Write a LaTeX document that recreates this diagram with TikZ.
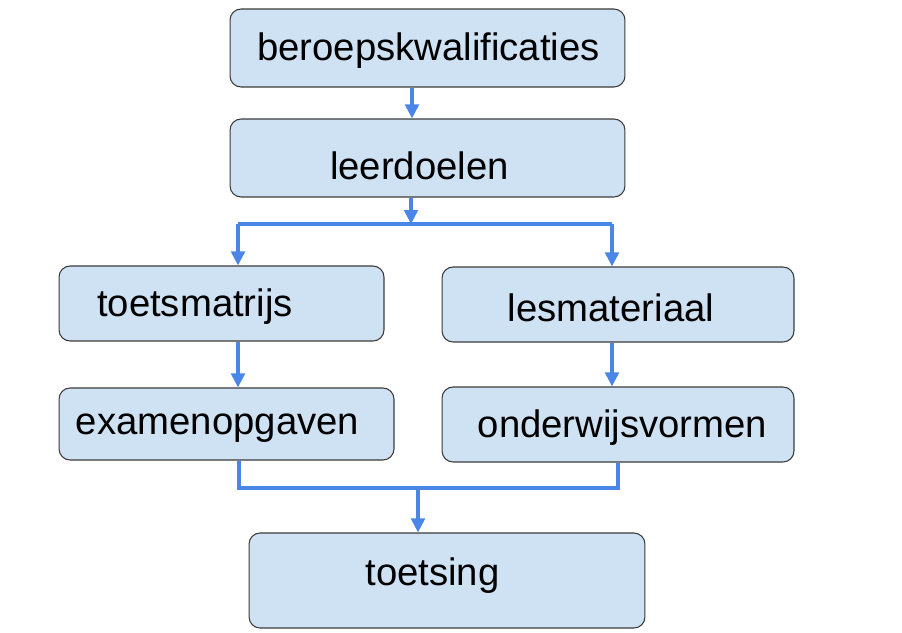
\documentclass[tikz,border=0pt]{standalone}
\usepackage{fontspec}
\setmainfont{Liberation Sans}
\usepackage{xcolor}
\usetikzlibrary{arrows.meta, positioning, calc}

\definecolor{boxfill}{HTML}{CFE2F3}
\definecolor{boxline}{HTML}{3A3A3A}
\definecolor{linkblue}{HTML}{4A86E8}

\begin{document}
\begin{tikzpicture}[
    x=0.02cm, y=-0.02cm,
    font=\fontsize{21.8pt}{26pt}\selectfont,
    box/.style={draw=boxline, line width=0.6pt, rounded corners=0.22cm,
                fill=boxfill, inner sep=0pt},
    txt/.style={inner sep=0pt, text=black},
    flow/.style={-{Triangle[length=2.8mm, width=2.7mm]}, line width=1.9pt, linkblue},
    joinline/.style={line width=1.9pt, linkblue},
]
\useasboundingbox (0,0) rectangle (902,632);

% --------- Top (beroepskwalificaties, leerdoelen) ----------
\node[box, minimum width=7.9cm, minimum height=1.56cm,
      label={[txt, xshift=0.02cm, yshift=-0.06cm]center:beroepskwalificaties}]
      (beroeps) at (427.5,48) {};
\node[box, minimum width=7.9cm, minimum height=1.56cm,
      label={[txt, xshift=-0.16cm, yshift=-0.16cm]center:leerdoelen}]
      (leerdoelen) at (427.5,158) {};

\draw[flow] ($(beroeps.south)+(-15.5,0)$) -- ($(leerdoelen.north)+(-15.5,0)$);

% --------- Middle rows ----------
\node[box, minimum width=6.5cm, minimum height=1.5cm,
      label={[txt, xshift=-0.53cm, yshift=-0.07cm]center:toetsmatrijs}]
      (toetsmatrijs) at (221.5,303.5) {};
\node[box, minimum width=7.04cm, minimum height=1.5cm,
      label={[txt, xshift=-0.14cm, yshift=-0.07cm]center:lesmateriaal}]
      (lesmateriaal) at (618,304.5) {};
\node[box, minimum width=6.7cm, minimum height=1.44cm,
      label={[txt, xshift=-0.18cm, yshift=-0.08cm]center:examenopgaven}]
      (examenopgaven) at (226.5,424) {};
\node[box, minimum width=7.04cm, minimum height=1.5cm,
      label={[txt, xshift=0.09cm, yshift=-0.07cm]center:onderwijsvormen}]
      (onderwijsvormen) at (618,424.5) {};

% split below leerdoelen
\coordinate (split) at (411,224);
\coordinate (tmin) at ($(toetsmatrijs.north)+(16.5,0)$);
\coordinate (lmin) at ($(lesmateriaal.north)+(-6,0)$);
\draw[flow] (leerdoelen.south -| split) -- (split);
\draw[joinline] (tmin |- split) -- (lmin |- split);
\draw[flow] (tmin |- split) -- (tmin);
\draw[flow] (lmin |- split) -- (lmin);

\draw[flow] ($(toetsmatrijs.south)+(16.5,0)$) -- ($(examenopgaven.north)+(11.5,0)$);
\draw[flow] ($(lesmateriaal.south)+(-6,0)$) -- ($(onderwijsvormen.north)+(-6,0)$);

% --------- Bottom (toetsing) ----------
\node[box, minimum width=7.92cm, minimum height=1.9cm,
      label={[txt, xshift=-0.29cm, yshift=0.1cm]center:toetsing}]
      (toetsing) at (447,580.5) {};

\coordinate (join) at (418,488);
\draw[joinline] ($(examenopgaven.south)+(12.5,0)$) |- (onderwijsvormen.south |- join) -- (onderwijsvormen.south);
\draw[flow] (join) -- (toetsing.north -| join);

\end{tikzpicture}
\end{document}
